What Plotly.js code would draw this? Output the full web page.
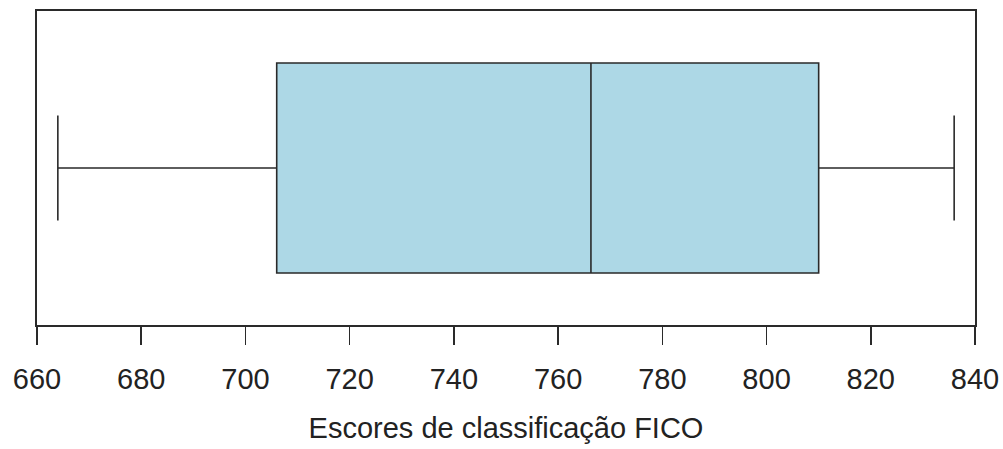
<!DOCTYPE html>
<html>
<head>
<meta charset="utf-8">
<script src="https://cdn.plot.ly/plotly-3.0.1.min.js"></script>
<style>html,body{margin:0;padding:0;background:#fff;}#chart{width:1003px;height:449px;}</style>
</head>
<body>
<div id="chart"></div>
<script>
// Summary statistics (FICO scores)
const lowerWhisker = [664];
const firstQuartile = [706];
const medianValue = [766.3];
const thirdQuartile = [810];
const upperWhisker = [836];
const tickValues = [660, 680, 700, 720, 740, 760, 780, 800, 820, 840];
const tickLabels = ["660", "680", "700", "720", "740", "760", "780", "800", "820", "840"];
const axisTitle = "Escores de classificação FICO";

const lineColor = "#2a2a2a";
const font = "Liberation Sans, Arial, sans-serif";

const trace = {
  type: "box",
  orientation: "h",
  y: [0],
  q1: firstQuartile,
  median: medianValue,
  q3: thirdQuartile,
  lowerfence: lowerWhisker,
  upperfence: upperWhisker,
  width: 1.337,
  whiskerwidth: 0.5,
  fillcolor: "#ADD8E6",
  line: {color: lineColor, width: 1.6},
  boxpoints: false,
  hoverinfo: "skip",
  showlegend: false
};

const layout = {
  width: 1003,
  height: 449,
  margin: {l: 37, r: 28, t: 10.5, b: 124, pad: 0},
  paper_bgcolor: "#fff",
  plot_bgcolor: "#fff",
  font: {family: font, color: "#222"},
  xaxis: {
    range: [660, 840],
    tickmode: "array",
    tickvals: tickValues,
    ticktext: tickLabels,
    ticks: "outside",
    ticklen: 18,
    tickwidth: 1.6,
    tickcolor: lineColor,
    ticklabelstandoff: 10,
    showline: true,
    linecolor: lineColor,
    linewidth: 1.6,
    mirror: true,
    showgrid: false,
    zeroline: false,
    tickfont: {size: 29, family: font, color: "#222"},
    title: {text: axisTitle, font: {size: 29, family: font, color: "#222"}, standoff: 23}
  },
  yaxis: {
    range: [-1, 1],
    showticklabels: false,
    ticks: "",
    showline: true,
    linecolor: lineColor,
    linewidth: 1.6,
    mirror: true,
    showgrid: false,
    zeroline: false,
    fixedrange: true
  }
};

Plotly.newPlot("chart", [trace], layout, {staticPlot: true, displayModeBar: false});
</script>
</body>
</html>
